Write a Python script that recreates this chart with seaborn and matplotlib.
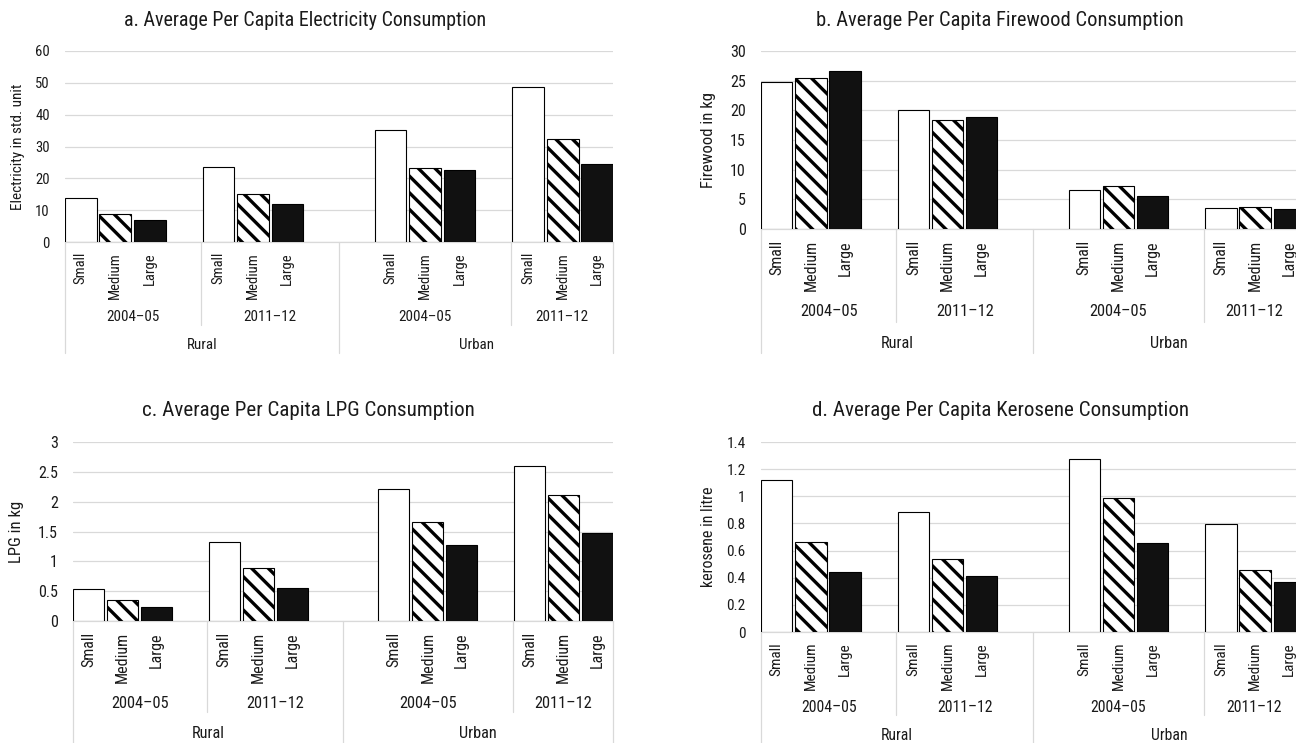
import pandas as pd
import matplotlib
matplotlib.use("Agg")
import matplotlib.pyplot as plt
import matplotlib.transforms as mtransforms
from matplotlib import font_manager as fm
from matplotlib.ticker import MultipleLocator, FuncFormatter
import seaborn as sns

sns.set_style("white")

# pick a narrow sans face if one is installed (reference uses a condensed font)
entries = {(f.name, f.stretch) for f in fm.fontManager.ttflist}
names = {n for n, _ in entries}
font_family, font_stretch, fscale = "Liberation Sans", "normal", 0.9
for cand in ["Liberation Sans Narrow", "Arial Narrow", "Roboto Condensed"]:
    if cand in names:
        font_family, font_stretch, fscale = cand, "normal", 1.0
        break
else:
    for fam in ["Roboto", "DejaVu Sans", "Open Sans"]:
        if (fam, "condensed") in entries or (fam, "semi-condensed") in entries:
            font_family, font_stretch, fscale = fam, "condensed", 1.0
            break
plt.rcParams['font.family'] = [font_family, 'DejaVu Sans']
plt.rcParams['font.stretch'] = font_stretch
plt.rcParams['hatch.linewidth'] = 2.4

# categories
sizes = ["Small", "Medium", "Large"]
groups = [("Rural", "2004–05"), ("Rural", "2011–12"), ("Urban", "2004–05"), ("Urban", "2011–12")]

# values in group order, Small / Medium / Large
electricity = [13.7, 8.7, 6.8, 23.7, 15.2, 11.9, 35.3, 23.1, 22.6, 48.7, 32.5, 24.5]
firewood = [24.7, 25.5, 26.7, 20.1, 18.3, 18.9, 6.6, 7.2, 5.55, 3.5, 3.7, 3.3]
lpg = [0.53, 0.35, 0.23, 1.33, 0.88, 0.555, 2.22, 1.66, 1.28, 2.59, 2.11, 1.48]
kerosene = [1.12, 0.664, 0.44, 0.887, 0.537, 0.414, 1.272, 0.986, 0.655, 0.797, 0.456, 0.37]

# excel style layout with blank categories between groups
n_slots = 16
group_start = [0, 4, 9, 13]
slot_ids = [f"s{i}" for i in range(n_slots)]
bar_w = 0.92
x_lo, x_hi = -bar_w / 2, n_slots - 1 + bar_w / 2
year_edges = [x_lo, 3.5, 7.5, 12.5, x_hi]
region_edges = [x_lo, 7.5, x_hi]

palette = {"Small": "white", "Medium": "white", "Large": "#111111"}
grid_c = "#d9d9d9"
text_c = "#1a1a1a"

W, H = 1296, 743
fig = plt.figure(figsize=(W / 100, H / 100), dpi=100)


def make_axes(left, top, right, bottom):
    return fig.add_axes([left / W, 1 - bottom / H, (right - left) / W, (bottom - top) / H])


def draw_panel(box, values, ymax, step, ylabel, ylabel_x, title, title_xy, fs, tfs, offs):
    left, top, right, bottom = box
    fs, tfs = fs * fscale, tfs * fscale
    ax = make_axes(*box)
    axh = bottom - top
    rows = []
    for g, (region, year) in enumerate(groups):
        for k, size in enumerate(sizes):
            rows.append({"slot": slot_ids[group_start[g] + k], "size": size,
                         "value": values[g * 3 + k]})
    df = pd.DataFrame(rows)
    sns.barplot(data=df, x="slot", y="value", hue="size", order=slot_ids, hue_order=sizes,
                palette=palette, dodge=False, width=bar_w, edgecolor="black", linewidth=0.8,
                saturation=1, errorbar=None, legend=False, ax=ax, zorder=3)
    for cont, size in zip(ax.containers, sizes):
        if size == "Medium":
            for p in cont:
                p.set_hatch("\\\\")

    ax.set_xlim(x_lo, x_hi)
    ax.set_ylim(0, ymax)
    ax.yaxis.set_major_locator(MultipleLocator(step))
    ax.yaxis.set_major_formatter(FuncFormatter(lambda v, _: f"{v:g}"))
    ax.grid(axis="y", color=grid_c, linewidth=0.9)
    ax.set_axisbelow(True)
    for s in ["top", "right", "left"]:
        ax.spines[s].set_visible(False)
    ax.spines["bottom"].set_color(grid_c)
    ax.spines["bottom"].set_linewidth(0.9)
    ax.tick_params(axis="y", length=0, pad=11, labelsize=fs, labelcolor=text_c)

    # size labels as rotated tick labels
    labels = [""] * n_slots
    for g in range(len(groups)):
        for k, size in enumerate(sizes):
            labels[group_start[g] + k] = size
    ax.set_xticks(range(n_slots))
    ax.set_xticklabels(labels, rotation=90)
    ax.tick_params(axis="x", length=0, pad=offs[0] * 0.72, labelsize=fs, labelcolor=text_c)
    ax.set_xlabel("")
    ax.set_ylabel(ylabel, fontsize=fs + 0.5, color=text_c)
    ax.yaxis.set_label_coords((ylabel_x - left) / (right - left), 0.5)

    trans = mtransforms.blended_transform_factory(ax.transData, ax.transAxes)
    # year labels and dividers
    for i, (region, year) in enumerate(groups):
        xc = (year_edges[i] + year_edges[i + 1]) / 2
        ax.text(xc, -offs[1] / axh, year, transform=trans, ha="center", va="center",
                fontsize=fs + 0.3, color=text_c)
    for xe in [3.5, 12.5]:
        ax.plot([xe, xe], [0, -offs[3] / axh], transform=trans, color=grid_c,
                lw=0.9, clip_on=False)
    for i, region in enumerate(["Rural", "Urban"]):
        xc = (region_edges[i] + region_edges[i + 1]) / 2
        ax.text(xc, -offs[2] / axh, region, transform=trans, ha="center", va="center",
                fontsize=fs + 0.3, color=text_c)
    for xe in region_edges:
        ax.plot([xe, xe], [0, -offs[4] / axh], transform=trans, color=grid_c,
                lw=0.9, clip_on=False)

    fig.text(title_xy[0] / W, 1 - title_xy[1] / H, title, ha="center", va="center",
             fontsize=tfs, color=text_c)
    return ax


draw_panel((65, 51, 613, 242), electricity, 60, 10, "Electricity in std. unit", 25,
           "a. Average Per Capita Electricity Consumption", (305, 20), 10.5, 14.4,
           (10, 75, 103, 83, 111))
draw_panel((761, 51, 1305, 229), firewood, 30, 5, "Firewood in kg", 716,
           "b. Average Per Capita Firewood Consumption", (1000, 20), 11.5, 14.8,
           (11, 83, 114, 93, 124))
draw_panel((73, 442, 613, 621), lpg, 3, 0.5, "LPG in kg", 24,
           "c. Average Per Capita LPG Consumption", (308, 410), 11.5, 15.1,
           (11, 82, 112, 91, 122))
draw_panel((761, 442, 1305, 632), kerosene, 1.4, 0.2, "kerosene in litre", 716,
           "d. Average Per Capita Kerosene Consumption", (1000, 410), 11, 15.1,
           (10, 75, 103, 83, 111))

fig.savefig("out.png", dpi=100)
